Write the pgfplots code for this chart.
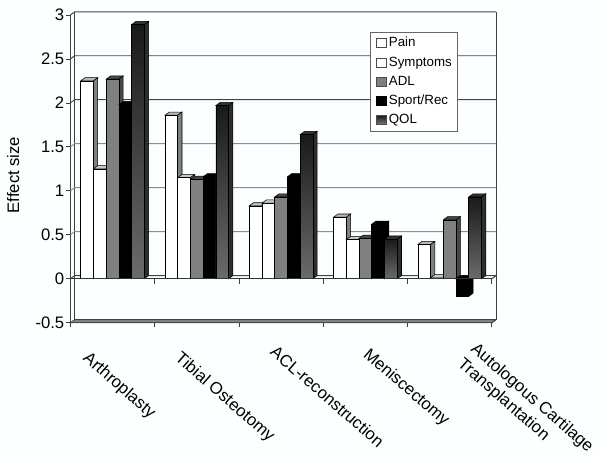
\documentclass[border=0pt]{standalone}
\usepackage{fontspec}
\setmainfont{Liberation Sans}
\usepackage{pgfplots}
\pgfplotsset{compat=1.18}
\definecolor{bg}{HTML}{FBFFFF}
\definecolor{gridd}{HTML}{444444}
\definecolor{gridl}{HTML}{8C8C8C}
\newcommand{\dxx}{0.051}
\newcommand{\dyy}{0.0364}
% group, slot, value, front options, top colour, side colour
\newcommand{\barbox}[6]{%
  \pgfmathsetmacro{\xa}{#1+0.122+#2*0.151}%
  \pgfmathsetmacro{\xb}{\xa+0.151}%
  \pgfmathsetmacro{\xc}{\xb+\dxx}%
  \pgfmathsetmacro{\xd}{\xa+\dxx}%
  \pgfmathsetmacro{\yt}{max(#3,0)}%
  \pgfmathsetmacro{\yb}{min(#3,0)}%
  \pgfmathsetmacro{\ytt}{\yt+\dyy}%
  \pgfmathsetmacro{\ybb}{\yb+\dyy}%
  \addplot[forget plot,draw=black,line width=0.4pt,fill=#5] coordinates {(\xa,\yt)(\xb,\yt)(\xc,\ytt)(\xd,\ytt)} --cycle;
  \addplot[forget plot,draw=black,line width=0.4pt,fill=#6] coordinates {(\xb,\yb)(\xc,\ybb)(\xc,\ytt)(\xb,\yt)} --cycle;
  \addplot[forget plot,draw=black,line width=0.4pt,#4] coordinates {(\xa,\yb)(\xb,\yb)(\xb,\yt)(\xa,\yt)} --cycle;
}
\newcommand{\pain}[2]{\barbox{#1}{0}{#2}{fill=white}{black!28}{black!50}}
\newcommand{\sympt}[2]{\barbox{#1}{1}{#2}{fill=white}{black!22}{black!50}}
\newcommand{\adl}[2]{\barbox{#1}{2}{#2}{fill=black!50}{black!72}{black!72}}
\newcommand{\sport}[2]{\barbox{#1}{3}{#2}{fill=black}{black}{black}}
\newcommand{\qol}[2]{\barbox{#1}{4}{#2}{top color=black!90,bottom color=black!58}{black!80}{black!82}}
\newcommand{\grid}[2]{%
  \pgfmathsetmacro{\yg}{#1+\dyy}%
  \addplot[forget plot,#2,line width=0.7pt] coordinates {(0,#1)(\dxx,\yg)(5.051,\yg)};
}
\begin{document}
\begin{tikzpicture}
\fill[bg] (0,0) rectangle (450pt,344.25pt);
\path[use as bounding box] (0,0) rectangle (450pt,344.25pt);
\begin{axis}[
  at={(52.8pt,102.2pt)},anchor=south west,
  scale only axis,width=316.1pt,height=230.8pt,
  xmin=0,xmax=5,ymin=-0.5,ymax=3,
  clip=false,
  axis x line*=bottom,axis y line*=left,
  axis line style={-,draw=black!75,line width=0.7pt},
  xtick={0,1,2,3,4,5},xticklabels={},
  ytick={-0.5,0,0.5,1,1.5,2,2.5,3},
  yticklabels={-0.5,0,0.5,1,1.5,2,2.5,3},
  tick style={draw=black!75,line width=0.6pt},
  major tick length=3.4pt,
  tick align=outside,
  yticklabel style={font=\fontsize{12.5}{14}\selectfont,inner sep=1pt},
  ylabel={Effect size},
  ylabel style={at={(axis description cs:-0.136,0.48)},anchor=center,rotate=0,font=\fontsize{12.5}{14}\selectfont},
  legend style={at={(0.711,0.9457)},anchor=north west,draw=black!60,fill=white,
    font=\fontsize{10}{12}\selectfont,row sep=1.9pt,inner xsep=2pt,inner ysep=2pt,
    legend cell align=left,/tikz/every even column/.append style={column sep=1pt}},
  legend image code/.code={\path (0pt,0pt);\draw[line width=0.4pt,#1] (2.5pt,-3.4pt) rectangle (9.5pt,3.4pt);},
]
% walls
\addplot[forget plot,draw=black!75,line width=0.5pt,fill=black!50] coordinates {(0,-0.5)(5,-0.5)(5.051,-0.4636)(0.051,-0.4636)} --cycle;
\addplot[forget plot,draw=black!75,line width=0.7pt] coordinates {(0.051,-0.4636)(0.051,3.0364)};
\addplot[forget plot,draw=black!75,line width=0.7pt] coordinates {(5.051,-0.4636)(5.051,3.0364)};
\addplot[forget plot,draw=black!75,line width=0.7pt] coordinates {(5,-0.5)(5.051,-0.4636)};
\grid{3}{gridd}
\grid{2.5}{gridd}
\grid{2}{gridd}
\grid{1.5}{gridl}
\grid{1}{gridl}
\grid{0.5}{gridl}
\grid{0}{gridd}
\addplot[forget plot,black!80,line width=0.7pt] coordinates {(5,0)(5.051,0.0364)};
% ticks on the zero line
\addplot[forget plot,black!75,line width=0.6pt] coordinates {(0,0)(0,-0.055)};
\addplot[forget plot,black!75,line width=0.6pt] coordinates {(1,0)(1,-0.055)};
\addplot[forget plot,black!75,line width=0.6pt] coordinates {(2,0)(2,-0.055)};
\addplot[forget plot,black!75,line width=0.6pt] coordinates {(3,0)(3,-0.055)};
\addplot[forget plot,black!75,line width=0.6pt] coordinates {(4,0)(4,-0.055)};
\addplot[forget plot,black!75,line width=0.6pt] coordinates {(5,0)(5,-0.055)};
% Arthroplasty
\pain{0}{2.25}\sympt{0}{1.25}\adl{0}{2.27}\sport{0}{1.98}\qol{0}{2.89}
% Tibial Osteotomy
\pain{1}{1.86}\sympt{1}{1.15}\adl{1}{1.13}\sport{1}{1.16}\qol{1}{1.97}
% ACL-reconstruction
\pain{2}{0.83}\sympt{2}{0.86}\adl{2}{0.93}\sport{2}{1.16}\qol{2}{1.64}
% Meniscectomy
\pain{3}{0.70}\sympt{3}{0.445}\adl{3}{0.46}\sport{3}{0.62}\qol{3}{0.45}
% Autologous Cartilage Transplantation
\pain{4}{0.39}\sympt{4}{0.01}\adl{4}{0.67}\sport{4}{-0.2}\qol{4}{0.93}
% zero line on top
\addplot[forget plot,black!80,line width=0.7pt] coordinates {(0,0)(5,0)};
\addlegendimage{fill=white,draw=black!70}\addlegendentry{Pain}
\addlegendimage{fill=white,draw=black!70}\addlegendentry{Symptoms}
\addlegendimage{fill=black!50,draw=black!70}\addlegendentry{ADL}
\addlegendimage{fill=black,draw=black}\addlegendentry{Sport/Rec}
\addlegendimage{top color=black!90,bottom color=black!50,draw=black!70}\addlegendentry{QOL}
\end{axis}
\begin{scope}[every node/.style={font=\fontsize{12.6}{15}\selectfont,rotate=-41,anchor=center,align=left,inner sep=0pt}]
\node at (89.25pt,54.75pt) {Arthroplasty};
\node at (168.4pt,45.9pt) {Tibial Osteotomy};
\node at (245.6pt,46.9pt) {ACL-reconstruction};
\node at (304.5pt,53.25pt) {Meniscectomy};
\node at (393.9pt,39.75pt) {Autologous Cartilage\\Transplantation};
\end{scope}
\end{tikzpicture}
\end{document}
